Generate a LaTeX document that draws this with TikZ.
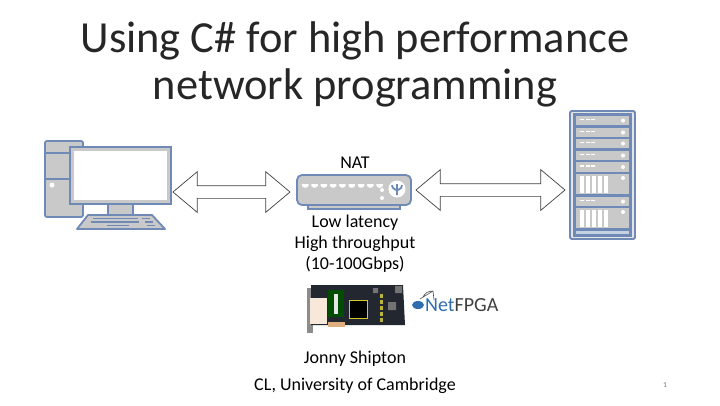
\documentclass[tikz,border=0pt]{standalone}
\usepackage{fontspec}
\setmainfont{Carlito}
\newfontfamily\titlefont[FakeBold=-0.25]{Carlito}
\usetikzlibrary{shapes.arrows}
\definecolor{iconblue}{HTML}{6F8AB7}
\definecolor{icongrey}{HTML}{C9C9C9}
\definecolor{boarddark}{HTML}{23272F}
\definecolor{netblue}{HTML}{2F6DB0}
\tikzset{
  titletext/.style={font=\titlefont\fontsize{44.4}{46}\selectfont, text=black!85, inner sep=0pt},
  bodytext/.style={font=\fontsize{18}{21}\selectfont, align=center, inner sep=0pt},
  linkarrow/.style={double arrow, draw=black!75, fill=white, line width=0.7pt, inner sep=0pt,
    text height=6pt, text depth=6pt, double arrow head extend=14pt, double arrow tip angle=80},
  icon/.style={draw=iconblue, fill=icongrey, line width=1.8pt},
  iconkey/.style={draw=iconblue, line width=1.5pt},
}
\begin{document}
\begin{tikzpicture}[x=1pt,y=-1pt]
  \useasboundingbox (0,0) rectangle (720,405);
  \node[titletext] (title1) at (355,41) {Using C\# for high performance};
  \node[titletext] (title2) at (355,88) {network programming};

  % computer
  \draw[icon, rounded corners=2pt] (45,141) rectangle (83,217);
  \draw[iconkey] (45,153) -- (70,153) (45,179) -- (70,179);
  \fill[white] (52,185) circle (2.5);
  \draw[icon] (108,204) rectangle (133,215);
  \draw[icon, line join=round] (88,215) -- (152,215) -- (165,229) -- (77,229) -- cycle;
  \draw[iconkey, line width=1.4pt] (93,218.5) -- (138,218.5) (142,218.5) -- (150,218.5)
    (91,222) -- (139,222) (145,222) -- (153,222)
    (107,225.5) -- (129,225.5) (147,225.5) -- (155,225.5);
  \draw[icon] (70,147) rectangle (171,204);
  \fill[white] (74,151) rectangle (167,200);

  % nat box
  \draw[icon] (308,205) rectangle (400,209);
  \draw[icon, rounded corners=5pt] (297,175) rectangle (411,205);
  \foreach \i in {0,...,8}
    \fill[white] (302+\i*9.3,184) -- ++(6.5,0) -- ++(0,2) -- ++(-2,1.5) -- ++(-2.5,0) -- ++(-2,-1.5) -- cycle;
  \fill[white] (382,190) circle (2) (382,198) circle (2) (397,189) circle (8.5);
  \draw[iconblue, line width=1.8pt] (397,184) -- (397,195) (392,185) .. controls (392,190) and (397,189) .. (397,191)
    (402,185) .. controls (402,190) and (397,189) .. (397,191);

  % server rack
  \draw[icon, fill=white!50!icongrey, rounded corners=1.5pt] (570,111) rectangle (635,239);
  \draw[iconkey, fill=iconblue] (574,114) rectangle (631,236);
  \fill[white!60!iconblue] (576,230.5) rectangle (629,233.5);
  \foreach \a/\b in {116/125,128/137,139/148,151/160,162/172,197/206} {
    \fill[icongrey] (576,\a) rectangle (629,\b);
    \draw[white, line width=1.7pt, dash pattern=on 4pt off 1.5pt] (580,{(\a+\b)/2-1}) -- (596,{(\a+\b)/2-1});
    \fill[white] (623,{(\a+\b)/2}) circle (2);
  }
  \foreach \a/\b in {174/194,208/228} {
    \fill[icongrey] (576,\a) rectangle (629,\b);
    \foreach \i in {0,...,4}
      \fill[white] (580+\i*6,\a+2) rectangle (584+\i*6,\b-1);
    \fill[white] (623,\a+4) circle (2);
  }

  % links
  \node[linkarrow, minimum height=117pt] (linkleft) at (231.5,192) {};
  \node[linkarrow, minimum height=149pt] (linkright) at (490.5,190) {};

  % labels
  \node[bodytext] (nat) at (355,163) {NAT};
  \node[bodytext, anchor=north] (notes) at (355,214.5) {Low latency\\High throughput\\(10-100Gbps)};

  % fpga board
  \fill[black!45] (307,288) rectangle (313,333);
  \fill[boarddark] (311,285) -- (403,285) -- (405,325) -- (311,325) -- cycle;
  \fill[black!25!orange!50!white] (328,322) rectangle (345,327);
  \fill[black!20!orange!15!white] (310,298) rectangle (327,324);
  \fill[green!30!black] (328,290) rectangle (344,317);
  \fill[black!10] (334,294) rectangle (338,314);
  \draw[yellow!80!black, line width=1pt, fill=black] (349,300) rectangle (367,318);
  \foreach \i in {0,...,4}
    \fill[yellow!70!black] (380,294+\i*6) rectangle (383,298+\i*6);
  \fill[black!55] (373,288) rectangle (378,293) (395,286) rectangle (402,293) (388,302) rectangle (396,310);

  % netfpga logo
  \fill[netblue] (418,305) ellipse (6 and 4);
  \draw[black!70, line width=0.6pt] (420,299) -- (433,291) -- (434,300) (433,291) .. controls (428,291) and (425,293) .. (423,297);
  \node[font=\fontsize{20}{21}\selectfont, inner sep=0pt, anchor=west] (logo) at (425,305)
    {\textcolor{netblue}{Net}\textcolor{black!75}{FPGA}};

  \node[bodytext] (name) at (355,359) {Jonny Shipton};
  \node[bodytext] (place) at (355,386) {CL, University of Cambridge};
  \node[font=\fontsize{7.5}{9}\selectfont, text=black!55, inner sep=0pt] (page) at (665,385) {1};
\end{tikzpicture}
\end{document}
